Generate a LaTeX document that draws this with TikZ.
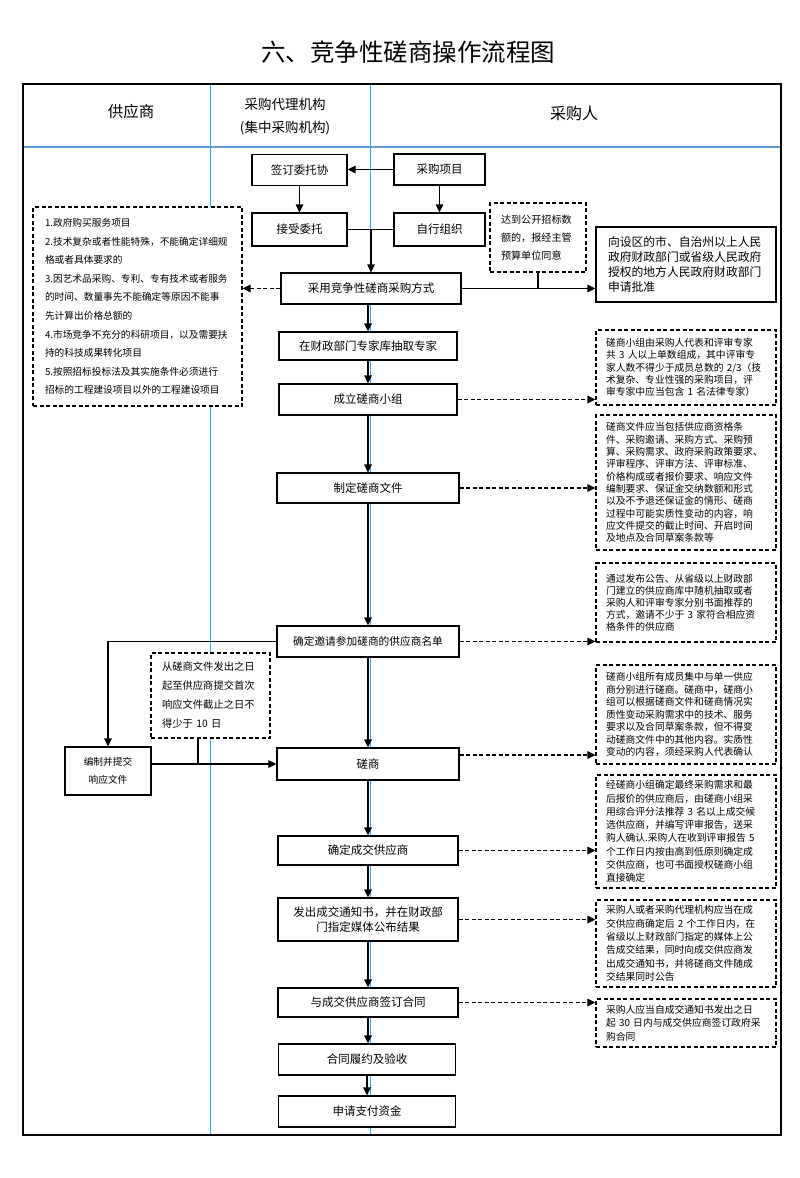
\documentclass[tikz,border=0pt]{standalone}
\usepackage{fontspec}
\setmainfont{Noto Sans CJK SC}
\usetikzlibrary{arrows.meta}
\definecolor{lane}{RGB}{91,155,213}
\begin{document}
\begin{tikzpicture}[x=1pt,y=-1pt,
  box/.style={draw=black,line width=1.2pt,fill=white,inner sep=0pt,align=center,font=\fontsize{11.5}{14}\selectfont},
  dbox/.style={draw=black,line width=1.1pt,dash pattern=on 4pt off 2.5pt,fill=white,inner xsep=10pt,inner ysep=0pt,align=left,text width=160pt,minimum width=180pt},
  arr/.style={line width=1.2pt,-{Triangle[length=8pt,width=7.5pt]}},
  darr/.style={line width=1.1pt,dash pattern=on 4pt off 2.5pt,-{Triangle[length=8pt,width=7.5pt]}},
  ln/.style={line width=1.2pt},
]
\fill[white] (0,0) rectangle (800,1178);
\useasboundingbox (0,0) rectangle (800,1178);

% title
\node (title) at (408,52) {\fontsize{24.5}{28}\selectfont 六、竞争性磋商操作流程图};

% lanes
\draw[lane,line width=1.4pt] (23,147) -- (781,147);
\draw[lane,line width=0.9pt] (210,84) -- (210,1135);
\draw[lane,line width=0.9pt] (370,84) -- (370,1135);
\draw[line width=2pt] (23,84) rectangle (781,1135);

\node (h1) at (131,112) {\fontsize{15.5}{18}\selectfont 供应商};
\node[align=center,font=\fontsize{13.5}{23}\selectfont] (h2) at (285,116.5) {采购代理机构\\(集中采购机构)};
\node (h3) at (574,113) {\fontsize{16}{18}\selectfont 采购人};

% top boxes
\node[box,minimum width=95pt,minimum height=31pt] (qd) at (299.5,170) {签订委托协};
\node[box,minimum width=91pt,minimum height=31pt] (cgxm) at (439.5,169.5) {采购项目};
\node[box,minimum width=95pt,minimum height=33pt] (jswt) at (299.5,229.5) {接受委托};
\node[box,minimum width=91pt,minimum height=33pt] (zxzz) at (439.5,229.5) {自行组织};
\node[box,minimum width=180pt,minimum height=31pt] (cyjz) at (371,288.5) {采用竞争性磋商采购方式};

\node[dbox,text width=74pt,minimum width=96pt,inner xsep=11pt,minimum height=69pt,font=\fontsize{10.1}{18.3}\selectfont] (dd) at (538,237.5) {达到公开招标数\\额的，报经主管\\预算单位同意};
\node[box,align=left,text width=156pt,inner xsep=12pt,minimum height=75pt,font=\fontsize{11.8}{15}\selectfont] (sq) at (686,264.5) {向设区的市、自治州以上人民\\政府财政部门或省级人民政府\\授权的地方人民政府财政部门\\申请批准};
\node[dbox,text width=185pt,minimum width=209pt,inner xsep=12pt,minimum height=199pt,font=\fontsize{9.7}{18.6}\selectfont] (lz) at (137.5,306.5) {1.政府购买服务项目\\2.技术复杂或者性能特殊，不能确定详细规\\格或者具体要求的\\3.因艺术品采购、专利、专有技术或者服务\\的时间、数量事先不能确定等原因不能事\\先计算出价格总额的\\4.市场竞争不充分的科研项目，以及需要扶\\持的科技成果转化项目\\5.按照招标投标法及其实施条件必须进行\\招标的工程建设项目以外的工程建设项目};

% main chain
\node[box,minimum width=178pt,minimum height=28pt] (zj) at (368,346) {在财政部门专家库抽取专家};
\node[box,minimum width=178pt,minimum height=31pt] (cl) at (368,399.5) {成立磋商小组};
\node[box,minimum width=182pt,minimum height=30pt] (zd) at (368,488) {制定磋商文件};
\node[box,minimum width=182pt,minimum height=31pt,font=\fontsize{10.7}{13}\selectfont] (qdyq) at (368,641.5) {确定邀请参加磋商的供应商名单};
\node[box,minimum width=182pt,minimum height=32pt] (cs) at (368,764) {磋商};
\node[box,minimum width=180pt,minimum height=29pt] (qdcj) at (368,850.5) {确定成交供应商};
\node[box,minimum width=180pt,minimum height=43pt,font=\fontsize{11.5}{15}\selectfont] (fc) at (368,919.5) {发出成交通知书，并在财政部\\门指定媒体公布结果};
\node[box,minimum width=180pt,minimum height=29pt] (yc) at (368,1002.5) {与成交供应商签订合同};
\node[box,minimum width=177pt,minimum height=31pt] (hl) at (367,1059.5) {合同履约及验收};
\node[box,minimum width=177pt,minimum height=31pt] (sz) at (367,1111.5) {申请支付资金};

% right notes
\node[dbox,minimum height=75pt,font=\fontsize{9.8}{12.3}\selectfont] (nA) at (686,367.5) {磋商小组由采购人代表和评审专家\\共 3 人以上单数组成，其中评审专\\家人数不得少于成员总数的 2/3（技\\术复杂、专业性强的采购项目，评\\审专家中应当包含 1 名法律专家）};
\node[dbox,minimum height=135pt,font=\fontsize{9.8}{12.3}\selectfont] (nB) at (686,482.5) {磋商文件应当包括供应商资格条\\件、采购邀请、采购方式、采购预\\算、采购需求、政府采购政策要求、\\评审程序、评审方法、评审标准、\\价格构成或者报价要求、响应文件\\编制要求、保证金交纳数额和形式\\以及不予退还保证金的情形、磋商\\过程中可能实质性变动的内容，响\\应文件提交的截止时间、开启时间\\及地点及合同草案条款等};
\node[dbox,minimum height=79pt,font=\fontsize{9.8}{12}\selectfont] (nC) at (686,602.5) {通过发布公告、从省级以上财政部\\门建立的供应商库中随机抽取或者\\采购人和评审专家分别书面推荐的\\方式，邀请不少于 3 家符合相应资\\格条件的供应商};
\node[dbox,minimum height=99pt,font=\fontsize{9.8}{12.5}\selectfont] (nD) at (686,714.5) {磋商小组所有成员集中与单一供应\\商分别进行磋商。磋商中，磋商小\\组可以根据磋商文件和磋商情况实\\质性变动采购需求中的技术、服务\\要求以及合同草案条款，但不得变\\动磋商文件中的其他内容。实质性\\变动的内容，须经采购人代表确认};
\node[dbox,minimum height=113pt,font=\fontsize{9.8}{13.3}\selectfont] (nE) at (686,831.5) {经磋商小组确定最终采购需求和最\\后报价的供应商后，由磋商小组采\\用综合评分法推荐 3 名以上成交候\\选供应商，并编写评审报告，送采\\购人确认.采购人在收到评审报告 5\\个工作日内按由高到低原则确定成\\交供应商，也可书面授权磋商小组\\直接确定};
\node[dbox,minimum height=87pt,font=\fontsize{9.8}{13.3}\selectfont] (nF) at (686,943.5) {采购人或者采购代理机构应当在成\\交供应商确定后 2 个工作日内，在\\省级以上财政部门指定的媒体上公\\告成交结果，同时向成交供应商发\\出成交通知书，并将磋商文件随成\\交结果同时公告};
\node[dbox,minimum height=48pt,font=\fontsize{9.8}{13.3}\selectfont] (nG) at (686,1023) {采购人应当自成交通知书发出之日\\起 30 日内与成交供应商签订政府采\\购合同};

% left side
\node[box,minimum width=86pt,minimum height=48pt,font=\fontsize{9.7}{18.3}\selectfont] (bz) at (108,771) {编制并提交\\响应文件};
\node[dbox,text width=97pt,minimum width=119pt,inner xsep=11pt,minimum height=85pt,font=\fontsize{10.3}{19}\selectfont] (cw) at (210.5,695.5) {从磋商文件发出之日\\起至供应商提交首次\\响应文件截止之日不\\得少于 10 日};

% connectors top
\draw[arr] (cgxm.west) -- (cgxm.west -| qd.east);
\draw[arr] (qd.south) -- (jswt.north);
\draw[arr] (cgxm.south) -- (zxzz.north);
\draw[ln] (jswt.east) -- (zxzz.west);
\coordinate (mid) at (371,229.5);
\draw[arr] (mid) -- (mid |- cyjz.north);
\draw[ln] (dd.south) -- (dd.south |- cyjz.east);
\draw[arr] (cyjz.east) -- (cyjz.east -| sq.west);
\draw[darr] (cyjz.west) -- (cyjz.west -| lz.east);

% main chain arrows
\draw[arr] (zj.north |- cyjz.south) -- (zj.north);
\draw[arr] (zj.south) -- (cl.north);
\draw[arr] (cl.south) -- (zd.north);
\draw[arr] (zd.south) -- (qdyq.north);
\draw[arr] (qdyq.south) -- (cs.north);
\draw[arr] (cs.south) -- (qdcj.north);
\draw[arr] (qdcj.south) -- (fc.north);
\draw[arr] (fc.south) -- (yc.north);
\draw[arr] (yc.south) -- (yc.south |- hl.north);
\draw[arr] (hl.south) -- (hl.south |- sz.north);

% dashed arrows to notes
\draw[darr] (cl.east) -- (cl.east -| nA.west);
\draw[darr] (zd.east) -- (zd.east -| nB.west);
\draw[darr] (qdyq.east) -- (qdyq.east -| nC.west);
\draw[darr] ([yshift=9pt]cs.east) -- ([yshift=9pt]cs.east -| nD.west);
\draw[darr] (qdcj.east) -- (qdcj.east -| nE.west);
\draw[darr] (fc.east) -- (fc.east -| nF.west);
\draw[darr] (yc.east) -- (yc.east -| nG.west);

% left connectors
\draw[arr] (qdyq.west) -| (bz.north);
\draw[arr] (bz.east |- cs.west) -- (cs.west);
\draw[ln] ([xshift=-12.5pt]cw.south) -- ([xshift=-12.5pt]cw.south |- cs.west);
\end{tikzpicture}
\end{document}
